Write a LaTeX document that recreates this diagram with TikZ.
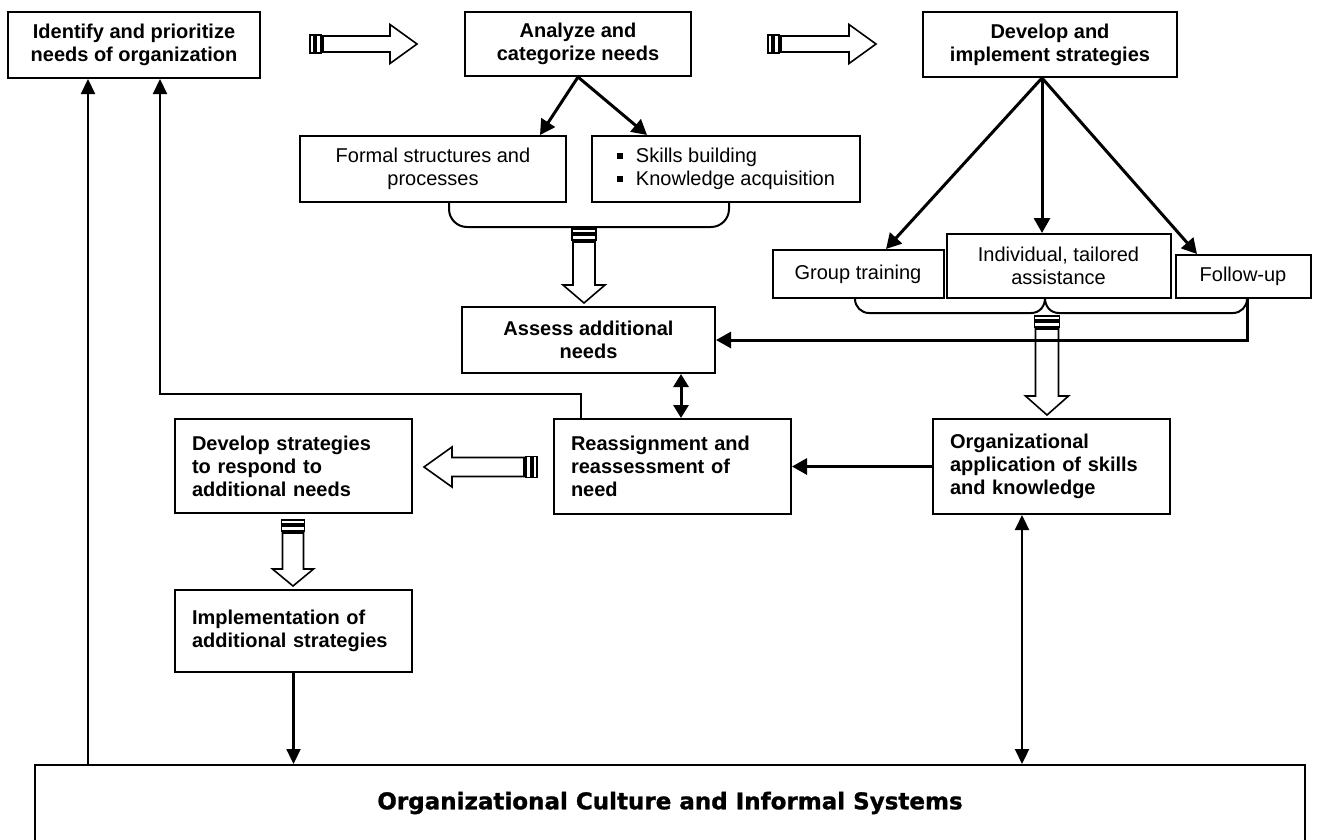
\documentclass[tikz,border=0pt]{standalone}
\usepackage{fontspec}
\setmainfont{Liberation Sans}
\newfontfamily\culturefont{DejaVu Sans}[BoldFeatures={FakeBold=1.2}]
\usetikzlibrary{arrows.meta, calc}
\newcommand{\boxfont}{\fontsize{20}{23}\selectfont}
\newcommand{\bul}{\rule[0.2em]{6pt}{6pt}\hspace{13pt}}
\tikzset{
	box/.style={draw, line width=2pt, inner sep=0pt, font=\boxfont\bfseries, align=center},
	plainbox/.style={box, font=\boxfont},
	leftbox/.style={box, align=left, text width=203pt, inner xsep=17pt, minimum width=237pt},
	conn/.style={line width=3pt, -{Triangle[length=15pt,width=16pt]}},
	thinconn/.style={line width=2.2pt, -{Triangle[length=15pt,width=14pt]}},
	bothconn/.style={line width=3pt, {Triangle[length=13pt,width=15pt]}-{Triangle[length=13pt,width=15pt]}},
	thinboth/.style={line width=2.2pt, {Triangle[length=15pt,width=14pt]}-{Triangle[length=15pt,width=14pt]}},
	bracket/.style={line width=2pt, rounded corners=18pt, line cap=round},
	blockarr/.style={draw, fill=white, line width=1.6pt, line join=miter},
	% #1 length, #2 shaft half width, #3 head half width, #4 head length
	pics/stripearrow/.style n args={4}{code={
		\draw[blockarr] (0,-#2-1) rectangle (4,#2+1);
		\draw[blockarr] (6,-#2-1) rectangle (11,#2+1);
		\draw[blockarr] (13,-#2) -- (#1-#4,-#2) -- (#1-#4,-#3) -- (#1,0) -- (#1-#4,#3) -- (#1-#4,#2) -- (13,#2) -- cycle;
	}},
}

\begin{document}
\begin{tikzpicture}[x=1pt, y=-1pt]
	\useasboundingbox (0,0) rectangle (1329,839);
	\clip (0,0) rectangle (1329,839);
	\fill[white] (0,0) rectangle (1329,839);

	% top row
	\node[box, minimum width=252pt, minimum height=66pt] (identify) at (134,45) {Identify and prioritize\\needs of organization};
	\node[box, minimum width=226pt, minimum height=64pt] (analyze) at (578,44) {Analyze and\\categorize needs};
	\node[box, minimum width=254pt, minimum height=65pt] (develop) at (1050,44.5) {Develop and\\implement strategies};

	% need categories and strategies
	\node[plainbox, minimum width=266pt, minimum height=66pt] (formal) at (433,169) {Formal structures and\\processes};
	\node[plainbox, align=left, minimum width=268pt, minimum height=66pt] (skills) at (726,169) {\bul Skills building\\\bul Knowledge acquisition};
	\node[plainbox, minimum width=171pt, minimum height=48pt] (group) at (858,274) {Group training};
	\node[plainbox, minimum width=224pt, minimum height=64pt] (individual) at (1058.5,266) {Individual, tailored\\assistance};
	\node[plainbox, minimum width=135pt, minimum height=43pt] (followup) at (1243,276.5) {Follow-up};

	% middle part
	\node[box, minimum width=253pt, minimum height=66pt] (assess) at (588.5,340) {Assess additional\\needs};
	\node[leftbox, minimum height=95pt] (reassign) at (672.5,466.5) {Reassignment and\\reassessment of\\need};
	\node[leftbox, minimum height=95pt] (orgapp) at (1051.5,466.5) {Organizational\\application of skills\\and knowledge};
	\node[leftbox, minimum height=94pt] (devstrat) at (293.5,466) {Develop strategies\\to respond to\\additional needs};
	\node[leftbox, minimum height=82pt] (impl) at (293.5,631) {Implementation of\\additional strategies};

	% bottom
	\node[draw, line width=2pt, inner sep=0pt, minimum width=1270pt, minimum height=76pt,
		font=\culturefont\bfseries\fontsize{23}{27}\selectfont] (culture) at (670,803) {Organizational Culture and Informal Systems};

	% block arrows
	\pic at (310,44) {stripearrow={107}{8}{19.5}{27}};
	\pic at (768,44) {stripearrow={108}{8}{19.5}{27}};
	\pic[rotate=180] at (537,467) {stripearrow={113}{9.5}{20}{28}};
	\pic[rotate=-90] at (584,229) {stripearrow={74}{11}{21}{18}};
	\pic[rotate=-90] at (1047,316) {stripearrow={99}{11.5}{21.5}{19}};
	\pic[rotate=-90] at (293,520) {stripearrow={66}{10.5}{20.5}{17}};

	% brackets
	\draw[bracket] (449,202) -- (449,227) -- (729,227) -- (729,202);
	\draw[bracket, rounded corners=14pt] (855,298) -- (855,313) -- (1031,313);
	\draw[bracket, sharp corners] (1031,313) .. controls (1040,313) and (1045,306) .. (1045,298) .. controls (1045,306) and (1050,313) .. (1059,313);
	\draw[bracket, rounded corners=14pt] (1059,313) -- (1247,313) -- (1247,298);

	% connectors
	\coordinate (devApex) at ([xshift=-8pt]develop.south);
	\draw[conn] (analyze.south) -- ([xshift=107pt]formal.north);
	\draw[conn] (analyze.south) -- ([xshift=-79pt]skills.north);
	\draw[conn] (devApex) -- ([xshift=28pt]group.north);
	\draw[conn] (devApex) -- ([xshift=-16.5pt]individual.north);
	\draw[conn] (devApex) -- ([xshift=-46pt]followup.north);

	\coordinate (fuFoot) at ([xshift=4pt]followup.south);
	\draw[conn] (fuFoot) |- (assess.east);
	\draw[bothconn] ([xshift=92.5pt]assess.south) -- ([xshift=8.5pt]reassign.north);
	\draw[conn] (orgapp.west) -- (reassign.east);

	\coordinate (retTop) at ([xshift=26pt]identify.south);
	\draw[thinconn] ([xshift=-91.5pt]reassign.north) -- ++(0,-24) -| (retTop);
	\coordinate (outerTop) at ([xshift=-46pt]identify.south);
	\draw[thinconn] (outerTop |- culture.north) -- (outerTop);
	\draw[thinconn] (impl.south) -- (impl.south |- culture.north);
	\coordinate (orgFoot) at ([xshift=-29.5pt]orgapp.south);
	\draw[thinboth] (orgFoot) -- (orgFoot |- culture.north);
\end{tikzpicture}
\end{document}
